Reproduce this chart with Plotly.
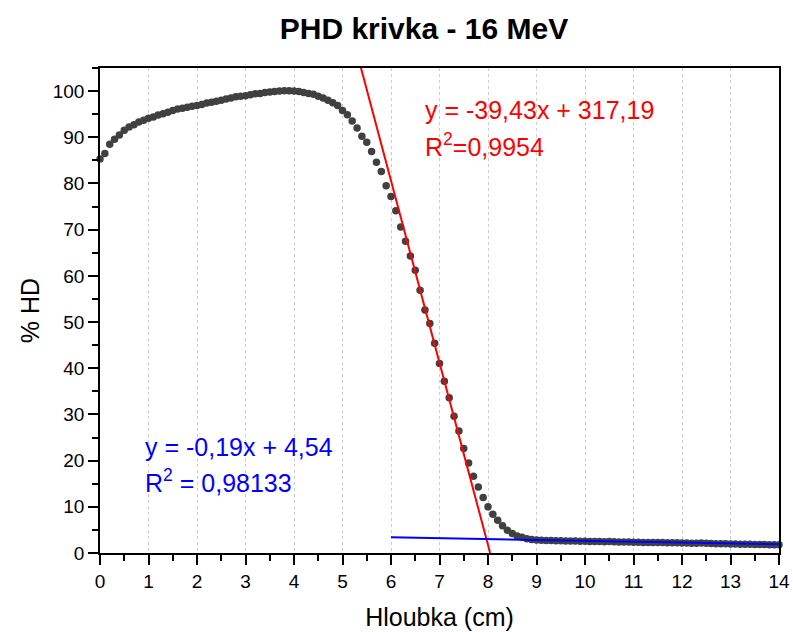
import plotly.graph_objects as go

# Depth (cm), 0.0 .. 14.0 step 0.1
depth = [round(i * 0.1, 1) for i in range(141)]
hd = [
    85.3, 86.5, 88.5, 89.6, 90.5, 91.5, 92.2, 92.7, 93.3, 93.7,
    94.1, 94.4, 94.8, 95.1, 95.4, 95.8, 96.1, 96.3, 96.5, 96.7,
    96.9, 97.1, 97.4, 97.6, 97.8, 98.0, 98.3, 98.5, 98.8, 98.9,
    99.0, 99.2, 99.4, 99.5, 99.7, 99.8, 99.9, 100.0, 100.1, 100.1,
    100.0, 99.9, 99.7, 99.5, 99.3, 98.9, 98.5, 98.0, 97.5, 96.9,
    95.8, 94.9, 93.5, 92.0, 90.2, 88.9, 86.9, 84.6, 82.6, 79.5,
    77.2, 74.1, 70.6, 67.5, 64.3, 61.2, 56.9, 52.6, 49.7, 45.4,
    41.0, 37.2, 33.6, 29.6, 26.4, 22.6, 19.5, 16.6, 14.3, 12.0,
    10.0, 8.4, 7.1, 5.9, 4.9, 4.2, 3.7, 3.4, 3.1, 2.9,
    2.8, 2.75, 2.7, 2.7, 2.65, 2.65, 2.6, 2.6, 2.6, 2.55,
    2.55, 2.5, 2.5, 2.5, 2.45, 2.5, 2.45, 2.4, 2.4, 2.4,
    2.35, 2.35, 2.3, 2.3, 2.3, 2.25, 2.25, 2.2, 2.2, 2.2,
    2.15, 2.15, 2.1, 2.1, 2.15, 2.1, 2.05, 2.0, 2.0, 2.0,
    1.95, 1.95, 1.9, 1.9, 1.9, 1.85, 1.85, 1.85, 1.8, 1.8,
    1.8,
]

# Linear fits (endpoints from the shown equations)
red_fit_x = [5.2, 8.044]
red_fit_y = [112.15, 0.02]
blue_fit_x = [6.0, 14.0]
blue_fit_y = [3.40, 1.88]

x_ticks = list(range(0, 15))
y_ticks = list(range(0, 101, 10))

FONT = "Liberation Sans, Arial, sans-serif"

W, H = 793, 632
L, R, T, B = 100, 14, 68, 79

fig = go.Figure()
fig.add_trace(go.Scatter(
    x=depth, y=hd, mode="markers",
    marker=dict(color="#404040", size=7.5, line=dict(width=0)),
    showlegend=False, cliponaxis=False,
))
fig.add_trace(go.Scatter(
    x=red_fit_x, y=red_fit_y, mode="lines",
    line=dict(color="#ff0000", width=2), showlegend=False,
))
fig.add_trace(go.Scatter(
    x=blue_fit_x, y=blue_fit_y, mode="lines",
    line=dict(color="#0000ff", width=2), showlegend=False,
))

fig.update_layout(
    template="none",
    width=W, height=H,
    margin=dict(l=L, r=R, t=T, b=B, autoexpand=False),
    paper_bgcolor="white", plot_bgcolor="white",
    font=dict(family=FONT, color="black"),
    title=dict(text="<b>PHD krivka - 16 MeV</b>", x=424 / W, xanchor="center",
               y=1 - 28 / H, yanchor="middle", font=dict(size=30, family=FONT)),
    xaxis=dict(
        range=[0, 14], tickvals=x_ticks, ticktext=[str(v) for v in x_ticks],
        automargin=False,
        ticks="outside", ticklen=10, tickwidth=1.5, tickcolor="black",
        showline=True, linecolor="black", linewidth=1.5, mirror=True,
        showgrid=True, gridcolor="#cccccc", griddash="dot", gridwidth=1,
        zeroline=False, tickfont=dict(size=19),
        minor=dict(dtick=0.5, ticks="outside", ticklen=6, tickcolor="black", tickwidth=1.5, showgrid=False),
        title=dict(text="Hloubka (cm)", font=dict(size=25), standoff=18),
    ),
    yaxis=dict(
        range=[0, 105], tickvals=y_ticks, ticktext=[str(v) for v in y_ticks],
        automargin=False,
        ticks="outside", ticklen=10, tickwidth=1.5, tickcolor="black",
        showline=True, linecolor="black", linewidth=1.5, mirror=True,
        showgrid=False, zeroline=False, tickfont=dict(size=19),
        minor=dict(dtick=5, ticks="outside", ticklen=6, tickcolor="black", tickwidth=1.5, showgrid=False),
        title=dict(text="% HD", font=dict(size=25), standoff=6),
    ),
)

ann = [
    ("y = -39,43x + 317,19", 423, 110, "#ff0000"),
    ("R<sup>2</sup>=0,9954", 423, 145, "#ff0000"),
    ("y = -0,19x + 4,54", 143, 447, "#0000ff"),
    ("R<sup>2</sup> = 0,98133", 143, 481, "#0000ff"),
]
for text, px, py, col in ann:
    fig.add_annotation(
        text=text, xref="paper", yref="paper",
        x=(px - L) / (W - L - R), y=1 - (py - T) / (H - T - B),
        xanchor="left", yanchor="middle", showarrow=False,
        font=dict(size=25, color=col, family=FONT),
    )

fig.write_html(
    "out.html",
    config={"displayModeBar": False},
    post_script="document.body.style.margin='0';document.body.style.overflow='hidden';",
)
